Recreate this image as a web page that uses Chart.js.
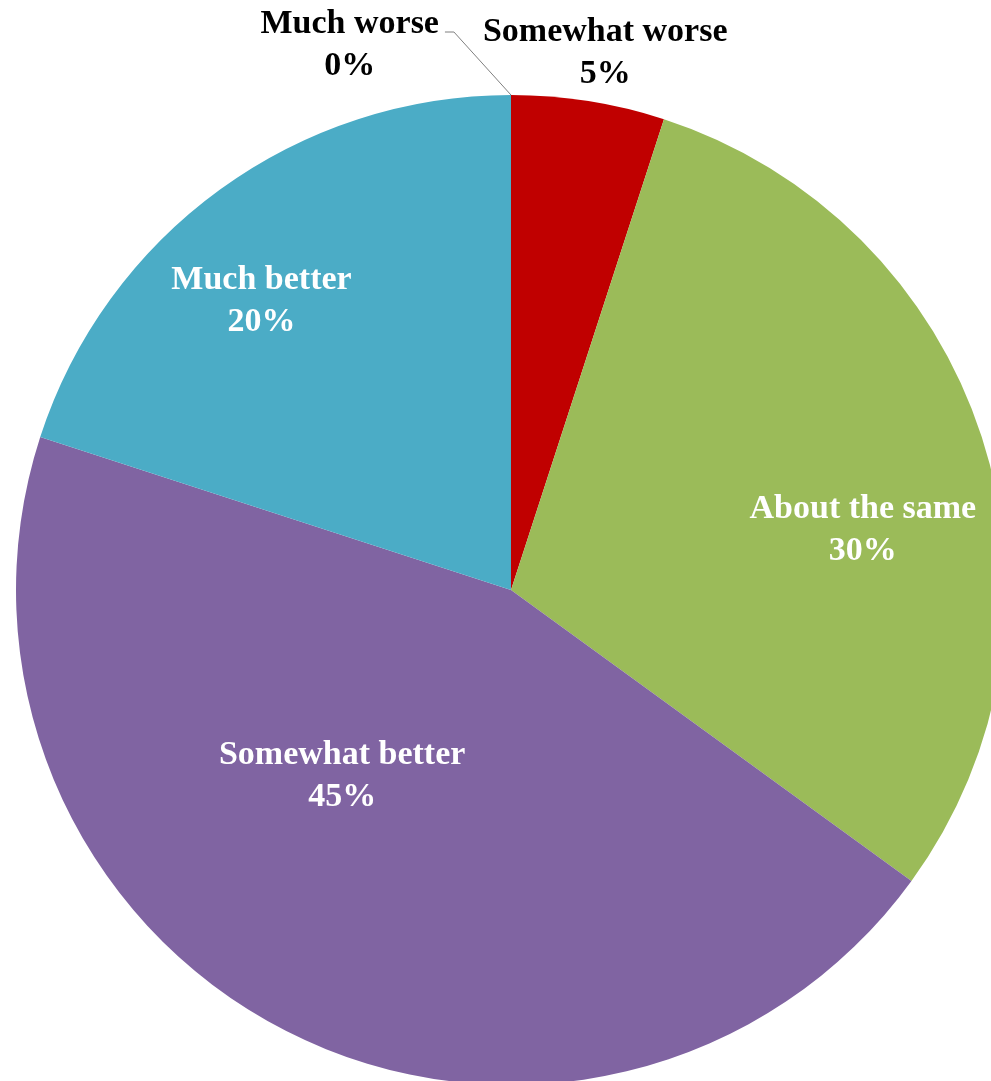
<!DOCTYPE html>
<html>
<head>
<meta charset="utf-8">
<script src="https://cdn.jsdelivr.net/npm/chart.js@4.4.1/dist/chart.umd.min.js"></script>
<style>
  html, body { margin: 0; padding: 0; background: #fff; overflow: hidden; width: 991px; height: 1081px; }
  #wrap { position: absolute; left: 0; top: 0; width: 1022px; height: 1180px; }
</style>
</head>
<body>
<div id="wrap"><canvas id="c" width="1022" height="1180"></canvas></div>
<script>
const categories = ["Much worse", "Somewhat worse", "About the same", "Somewhat better", "Much better"];
const values = [0, 5, 30, 45, 20];
const colors = ["#C0504D", "#C00000", "#9BBB59", "#8064A2", "#4BACC6"];
const labelColors = ["#000000", "#000000", "#FFFFFF", "#FFFFFF", "#FFFFFF"];
// label placement: radius fraction and angle shift (degrees) from slice mid-angle
const labelRadius = [1.154, 1.107, 0.722, 0.503, 0.776];
const labelShift = [-16.4, 0.9, 7.9, 15.7, -4.5];

const labelPlugin = {
  id: 'sliceLabels',
  afterDatasetsDraw(chart) {
    const ctx = chart.ctx;
    const meta = chart.getDatasetMeta(0);
    ctx.save();
    ctx.font = 'bold 34px "Liberation Serif", "Times New Roman", serif';
    ctx.textAlign = 'center';
    ctx.textBaseline = 'middle';
    meta.data.forEach((arc, i) => {
      const p = arc.getProps(['x', 'y', 'startAngle', 'endAngle', 'outerRadius'], true);
      const mid = (p.startAngle + p.endAngle) / 2 + labelShift[i] * Math.PI / 180;
      const r = p.outerRadius * labelRadius[i];
      const lx = p.x + Math.cos(mid) * r;
      const ly = p.y + Math.sin(mid) * r;
      if (values[i] === 0) {
        // leader line from slice edge to label
        const ex = p.x + Math.cos(p.startAngle) * p.outerRadius;
        const ey = p.y + Math.sin(p.startAngle) * p.outerRadius;
        const tw = ctx.measureText(categories[i]).width;
        const endX = lx + tw / 2 + 6;
        const lineY = ly - 10;
        ctx.strokeStyle = '#7F7F7F';
        ctx.lineWidth = 1;
        ctx.beginPath();
        ctx.moveTo(ex, ey);
        ctx.lineTo(endX + 9, lineY);
        ctx.lineTo(endX, lineY);
        ctx.stroke();
      }
      ctx.fillStyle = labelColors[i];
      ctx.fillText(categories[i], lx, ly - 18);
      ctx.fillText(values[i] + '%', lx, ly + 24);
    });
    ctx.restore();
  }
};

new Chart(document.getElementById('c'), {
  type: 'pie',
  data: {
    labels: categories,
    datasets: [{
      data: values,
      backgroundColor: colors,
      borderWidth: 0
    }]
  },
  options: {
    responsive: false,
    animation: false,
    layout: { padding: 16 },
    plugins: {
      legend: { display: false },
      tooltip: { enabled: false }
    }
  },
  plugins: [labelPlugin]
});
</script>
</body>
</html>
